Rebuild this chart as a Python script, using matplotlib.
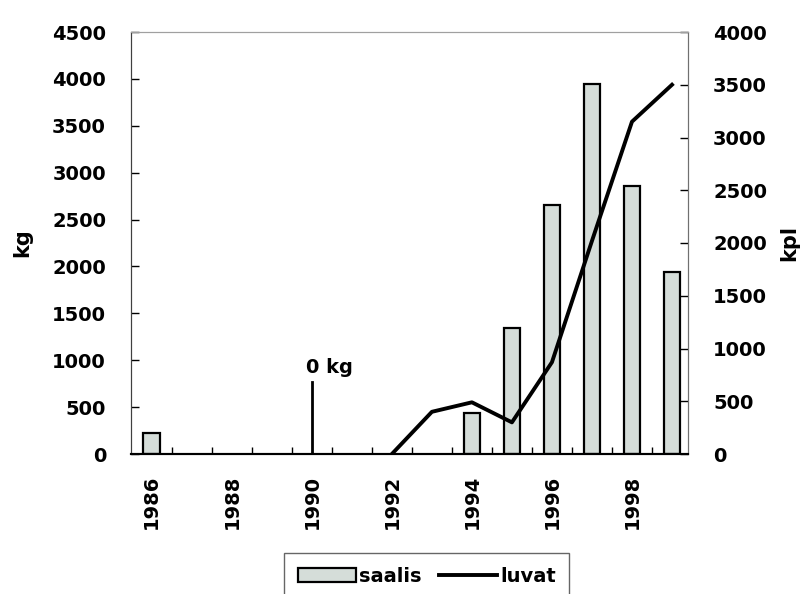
import matplotlib.pyplot as plt
from matplotlib.ticker import FixedLocator

plt.rcParams['font.family'] = ['DejaVu Sans']
plt.rcParams['font.weight'] = 'bold'

# saalis (kg), bars
bar_years = [1986, 1994, 1995, 1996, 1997, 1998, 1999]
saalis = [220, 440, 1340, 2650, 3950, 2860, 1940]

# luvat (kpl), line
line_years = [1992, 1993, 1994, 1995, 1996, 1997, 1998, 1999]
luvat = [0, 400, 490, 300, 870, 2020, 3150, 3500]

year_labels = [1986, 1988, 1990, 1992, 1994, 1996, 1998]

fig = plt.figure(figsize=(8.08, 5.94), dpi=100)
ax = fig.add_axes([131 / 808, 1 - 454 / 594, (688 - 131) / 808, (454 - 32) / 594])
ax2 = ax.twinx()

ax.bar(bar_years, saalis, width=0.42, color='#d5ddd9', edgecolor='black',
       linewidth=1.6, label='saalis', zorder=2)
ax2.plot(line_years, luvat, color='black', linewidth=2.8, label='luvat', zorder=3)

# marker for the zero catch in 1990
ax.plot([1990, 1990], [0, 770], color='black', linewidth=2)
ax.text(1989.85, 820, '0 kg', fontsize=14, fontweight='bold', va='bottom')

ax.set_xlim(1985.48, 1999.4)
ax.set_ylim(0, 4500)
ax2.set_ylim(0, 4000)
ax.set_yticks(range(0, 4501, 500))
ax2.set_yticks(range(0, 4001, 500))

ax.set_xticks(year_labels)
ax.set_xticklabels([str(y) for y in year_labels], rotation=90)
ax.tick_params(axis='x', which='major', length=0, pad=15, labelsize=14)
ax.xaxis.set_minor_locator(FixedLocator([y + 0.5 for y in range(1986, 1999)]))
ax.tick_params(axis='x', which='minor', direction='in', length=5, width=1)
ax.tick_params(axis='y', direction='in', length=6, width=1, labelsize=14, pad=18)
ax2.tick_params(axis='y', direction='in', length=6, width=1, labelsize=14, pad=18)

ax.set_ylabel('kg', fontsize=15, fontweight='bold', labelpad=14)
ax2.set_ylabel('kpl', fontsize=15, fontweight='bold', labelpad=9)

for a in (ax, ax2):
    a.spines['top'].set_color('#a0a0a0')
    a.spines['right'].set_color('#707070')
    a.spines['left'].set_color('#404040')
    a.spines['bottom'].set_linewidth(1.5)

h1, l1 = ax.get_legend_handles_labels()
h2, l2 = ax2.get_legend_handles_labels()
leg = fig.legend(h1[:1] + h2, l1[:1] + l2, loc='upper left',
                 bbox_to_anchor=(284 / 808, 1 - 553 / 594), ncol=2, fontsize=14,
                 frameon=True, fancybox=False, edgecolor='#404040',
                 handlelength=3.0, handletextpad=0.15, columnspacing=0.9,
                 borderpad=0.7, borderaxespad=0)
leg.get_frame().set_linewidth(1)

fig.savefig('out.png', dpi=100)
